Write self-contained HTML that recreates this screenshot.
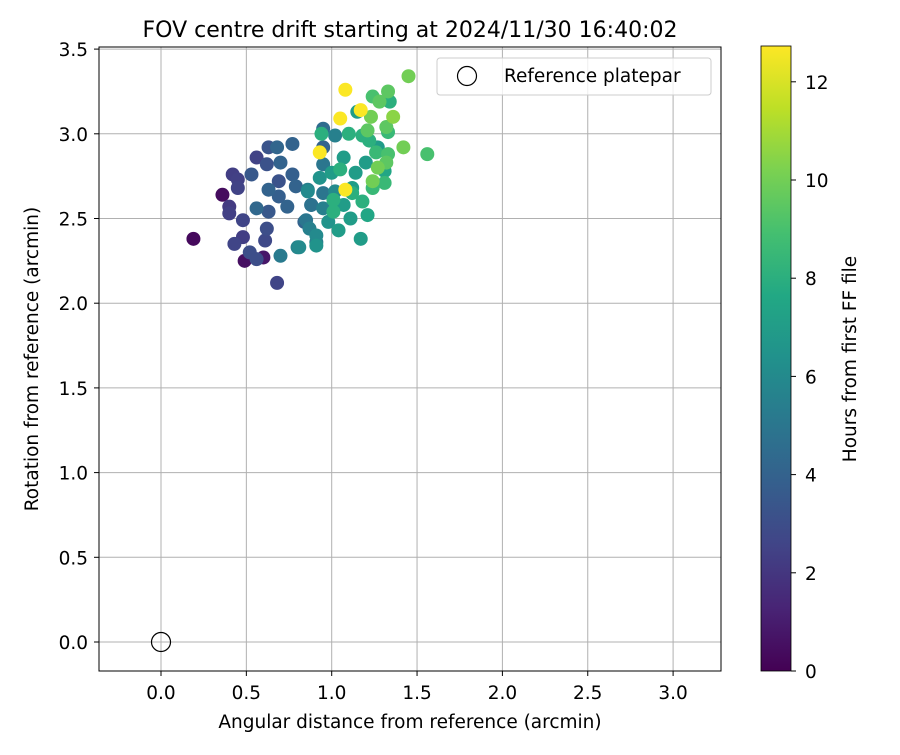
<!DOCTYPE html>
<html><head><meta charset="utf-8"><style>
body{margin:0;background:#fff}
text{font-family:"DejaVu Sans","Liberation Sans",sans-serif;fill:#000}
</style></head><body>
<svg id="chart" width="900" height="750" xmlns="http://www.w3.org/2000/svg">
<defs>
<linearGradient id="vir" x1="0" y1="1" x2="0" y2="0">
<stop offset="0" stop-color="#440154"/><stop offset="0.1" stop-color="#482475"/><stop offset="0.2" stop-color="#414487"/><stop offset="0.3" stop-color="#355f8d"/><stop offset="0.4" stop-color="#2a788e"/><stop offset="0.5" stop-color="#21918c"/><stop offset="0.6" stop-color="#22a884"/><stop offset="0.7" stop-color="#44bf70"/><stop offset="0.8" stop-color="#7ad151"/><stop offset="0.9" stop-color="#bddf26"/><stop offset="1" stop-color="#fde725"/>
</linearGradient>
<clipPath id="pc"><rect x="99" y="47" width="622" height="624"/></clipPath>
</defs>
<text x="410" y="37" font-size="22" text-anchor="middle">FOV centre drift starting at 2024/11/30 16:40:02</text>
<g id="grid"></g>
<g id="pts" clip-path="url(#pc)"></g>
<rect x="99" y="47" width="622" height="624" fill="none" stroke="#000" stroke-width="1"/>
<g id="xt"></g>
<g id="yt"></g>
<text x="410" y="728" font-size="18.5" text-anchor="middle">Angular distance from reference (arcmin)</text>
<text transform="translate(38,359) rotate(-90)" font-size="18.5" text-anchor="middle">Rotation from reference (arcmin)</text>
<g>
<rect x="437" y="58" width="274" height="37" rx="3" fill="#fff" fill-opacity="0.8" stroke="#ccc"/>
<circle cx="467" cy="76" r="9.5" fill="none" stroke="#000" stroke-width="1.2"/>
<text x="504" y="82" font-size="18.5">Reference platepar</text>
</g>
<rect x="761" y="46" width="30" height="625" fill="url(#vir)" stroke="#000" stroke-width="0.8"/>
<g id="ct"></g>
<text transform="translate(856,359) rotate(-90)" font-size="18.5" text-anchor="middle">Hours from first FF file</text>
</svg>
<script>
const xTicks=[0.0,0.5,1.0,1.5,2.0,2.5,3.0];
const yTicks=[0.0,0.5,1.0,1.5,2.0,2.5,3.0,3.5];
const cTicks=[0,2,4,6,8,10,12];
const refPoint=[0,0];
const xs=[0.63,0.68,0.77,0.56,0.62,0.70,0.53,0.42,0.45,0.45,0.69,0.77,0.63,0.79,0.36,0.40,0.40,0.56,0.63,0.69,0.74,0.86,0.48,0.62,0.48,0.43,0.61,0.70,0.80,0.52,0.56,0.49,0.60,0.68,0.19,0.88,0.85,0.91,
1.45,1.08,1.24,1.33,1.28,1.34,1.15,1.17,1.23,1.36,1.05,1.32,1.33,1.21,0.95,0.94,1.02,1.10,1.18,1.22,1.27,1.42,1.56,0.93,0.95,1.07,1.26,1.33,1.32,1.20,1.27,1.05,1.00,0.95,1.14,1.31,1.24,1.31,1.08,1.12,0.93,0.86,0.95,1.02,1.12,1.18,1.24,1.01,1.07,0.88,0.95,1.01,1.11,1.21,0.84,0.87,0.98,1.04,0.91,0.91,0.81,1.17];
const ys=[2.92,2.92,2.94,2.86,2.82,2.83,2.76,2.76,2.73,2.68,2.72,2.76,2.67,2.69,2.64,2.57,2.53,2.56,2.54,2.63,2.57,2.67,2.49,2.44,2.39,2.35,2.37,2.28,2.33,2.30,2.26,2.25,2.27,2.12,2.38,2.58,2.49,2.36,
3.34,3.26,3.22,3.25,3.19,3.19,3.13,3.14,3.10,3.10,3.09,3.04,3.01,3.02,3.03,3.00,2.99,3.00,2.99,2.96,2.92,2.92,2.88,2.89,2.92,2.86,2.89,2.88,2.83,2.83,2.80,2.79,2.77,2.82,2.77,2.78,2.72,2.71,2.67,2.68,2.74,2.66,2.65,2.66,2.65,2.60,2.68,2.61,2.58,2.58,2.56,2.54,2.50,2.52,2.48,2.44,2.48,2.43,2.40,2.34,2.33,2.38];
const hours=[3.3,4.2,4.0,2.5,3.2,4.0,3.5,2.3,2.4,2.5,3.2,3.8,4.0,4.0,0.4,2.2,2.4,4.3,3.5,3.8,4.0,5.5,2.6,3.0,2.3,2.6,2.8,5.2,5.7,3.0,3.0,0.5,0.8,2.6,0.3,4.8,5.0,5.5,
10,12.7,9,9.5,9.5,8,7,12.7,10,10.5,12.7,9.5,8.5,9.5,4.5,8,5.5,8,8,8,7,10,9,12.7,4,7,8.5,9,9.5,7,10,8,7,5,7,7.5,10,8.5,12.7,7,6.5,6,5,6,8,8,8.5,8,7,4.5,5.5,8,7,7.5,4,5.5,6.5,7,6,6.5,6,7];
const X0=161,XS=170.7,Y0=642,YS=169.4;
const sx=v=>X0+v*XS, sy=v=>Y0-v*YS;
const cmap=["#440154","#482475","#414487","#355f8d","#2a788e","#21918c","#22a884","#44bf70","#7ad151","#bddf26","#fde725"];
function hex(h){return [1,3,5].map(i=>parseInt(h.substr(i,2),16));}
function col(h){let t=Math.max(0,Math.min(1,h/12.73))*10;let i=Math.min(9,Math.floor(t)),f=t-i;let a=hex(cmap[i]),b=hex(cmap[i+1]);return "rgb("+a.map((v,k)=>Math.round(v+(b[k]-v)*f)).join(",")+")";}
const NS="http://www.w3.org/2000/svg";
function mk(tag,attrs,parent){const e=document.createElementNS(NS,tag);for(const k in attrs)e.setAttribute(k,attrs[k]);parent.appendChild(e);return e;}
const grid=document.getElementById('grid'),xt=document.getElementById('xt'),yt=document.getElementById('yt'),ct=document.getElementById('ct'),pts=document.getElementById('pts');
xTicks.forEach(v=>{const x=sx(v);
 const g=mk('line',{x1:x,x2:x,y1:47,y2:671,stroke:'#b0b0b0','stroke-width':1},grid);
 
 
 const t=mk('line',{x1:x,x2:x,y1:671,y2:676,stroke:'#000'},xt);
 
 
 const l=mk('text',{x:x,y:699,'font-size':18.5,'text-anchor':'middle'},xt);l.textContent=v.toFixed(1);
 
 });
yTicks.forEach(v=>{const y=sy(v);
 const g=mk('line',{x1:99,x2:721,y1:y,y2:y,stroke:'#b0b0b0','stroke-width':1},grid);
 
 
 const t=mk('line',{x1:94,x2:99,y1:y,y2:y,stroke:'#000'},yt);
 
 
 const l=mk('text',{x:88,y:y+7,'font-size':18.5,'text-anchor':'end'},yt);l.textContent=v.toFixed(1);
 
 });
cTicks.forEach(v=>{const y=671-v*49.1;
 const t=mk('line',{x1:791,x2:796,y1:y,y2:y,stroke:'#000'},ct);
 
 
 const l=mk('text',{x:805,y:y+7,'font-size':18.5},ct);l.textContent=v;
 
 });
const idx=hours.map((h,i)=>i).sort((a,b)=>hours[a]-hours[b]);
idx.forEach(i=>{const c=mk('circle',{cx:sx(xs[i]),cy:sy(ys[i]),r:7,fill:col(hours[i])},pts);
 
 });
const r=mk('circle',{cx:sx(refPoint[0]),cy:sy(refPoint[1]),r:9.5,fill:'none',stroke:'#000','stroke-width':1.2},pts);


</script>
</body></html>
